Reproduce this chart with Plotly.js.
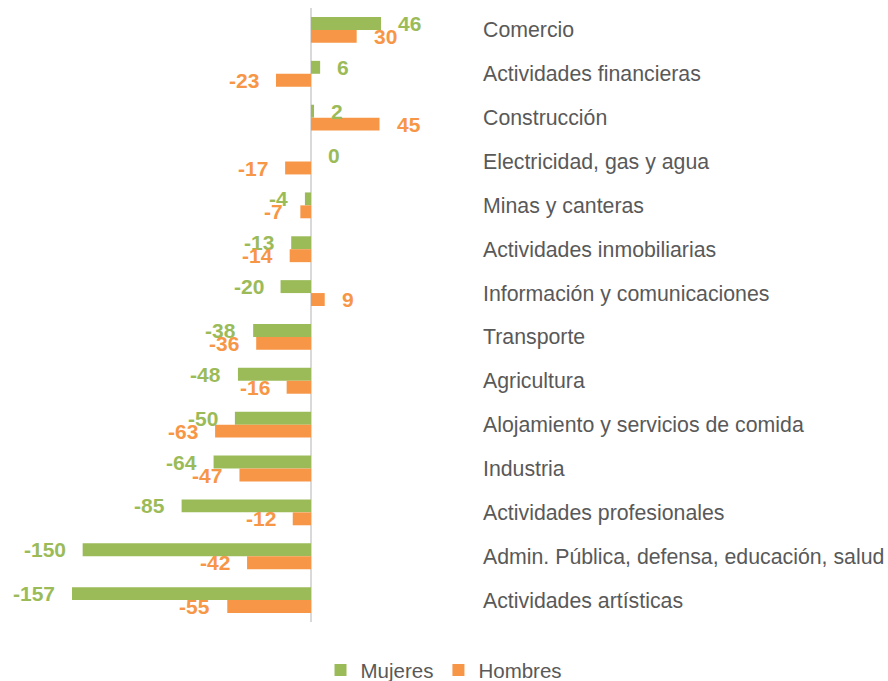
<!DOCTYPE html>
<html>
<head>
<meta charset="utf-8">
<script src="https://cdn.plot.ly/plotly-3.0.1.min.js"></script>
<style>html,body{margin:0;padding:0;background:#fff;}#chart{width:888px;height:681px;}</style>
</head>
<body>
<div id="chart"></div>
<script>
const categorias = ["Comercio","Actividades financieras","Construcción","Electricidad, gas y agua","Minas y canteras","Actividades inmobiliarias","Información y comunicaciones","Transporte","Agricultura","Alojamiento y servicios de comida","Industria","Actividades profesionales","Admin. Pública, defensa, educación, salud","Actividades artísticas"];
const mujeres = [46,6,2,0,-4,-13,-20,-38,-48,-50,-64,-85,-150,-157];
const hombres = [30,-23,45,-17,-7,-14,9,-36,-16,-63,-47,-12,-42,-55];

const verde = "#9BBB59";
const naranja = "#F79646";
const font = "Liberation Sans, Arial, sans-serif";

const traces = [
  {type:"bar", orientation:"h", name:"Mujeres", y:categorias, x:mujeres, marker:{color:verde}, hoverinfo:"skip"},
  {type:"bar", orientation:"h", name:"Hombres", y:categorias, x:hombres, marker:{color:naranja}, hoverinfo:"skip"}
];

function etiquetas(vals, color, dy){
  return vals.map((v,i)=>({
    x:v, y:categorias[i], xref:"x", yref:"y",
    text:String(v), showarrow:false,
    xanchor: v>=0 ? "left":"right",
    xshift: v>=0 ? 15 : -15,
    yshift: dy,
    font:{family:font, size:21, color:color, weight:"bold"}
  }));
}

const layout = {
  width:888, height:681,
  margin:{l:0, r:410, t:8, b:59},
  paper_bgcolor:"#fff", plot_bgcolor:"#fff",
  barmode:"group", bargap:0.41, bargroupgap:0,
  font:{family:font, size:21, color:"#595959"},
  xaxis:{range:[-204.3,109.7], showgrid:false, zeroline:true, zerolinecolor:"#d9d9d9", zerolinewidth:2, showticklabels:false, ticks:"", fixedrange:true},
  yaxis:{autorange:"reversed", side:"right", showgrid:false, zeroline:false, ticks:"", showline:false, tickfont:{family:font, size:21.3, color:"#595959"}, automargin:false, ticklabelstandoff:4},
  showlegend:true,
  legend:{orientation:"h", xref:"container", yref:"container", x:0.5, xanchor:"center", y:0.016, yanchor:"middle", font:{family:font, size:20.5, color:"#595959"}, itemwidth:30},
  annotations: etiquetas(mujeres, verde, 6.5).concat(etiquetas(hombres, naranja, -6.5))
};

Plotly.newPlot("chart", traces, layout, {displayModeBar:false, staticPlot:true});
</script>
</body>
</html>
